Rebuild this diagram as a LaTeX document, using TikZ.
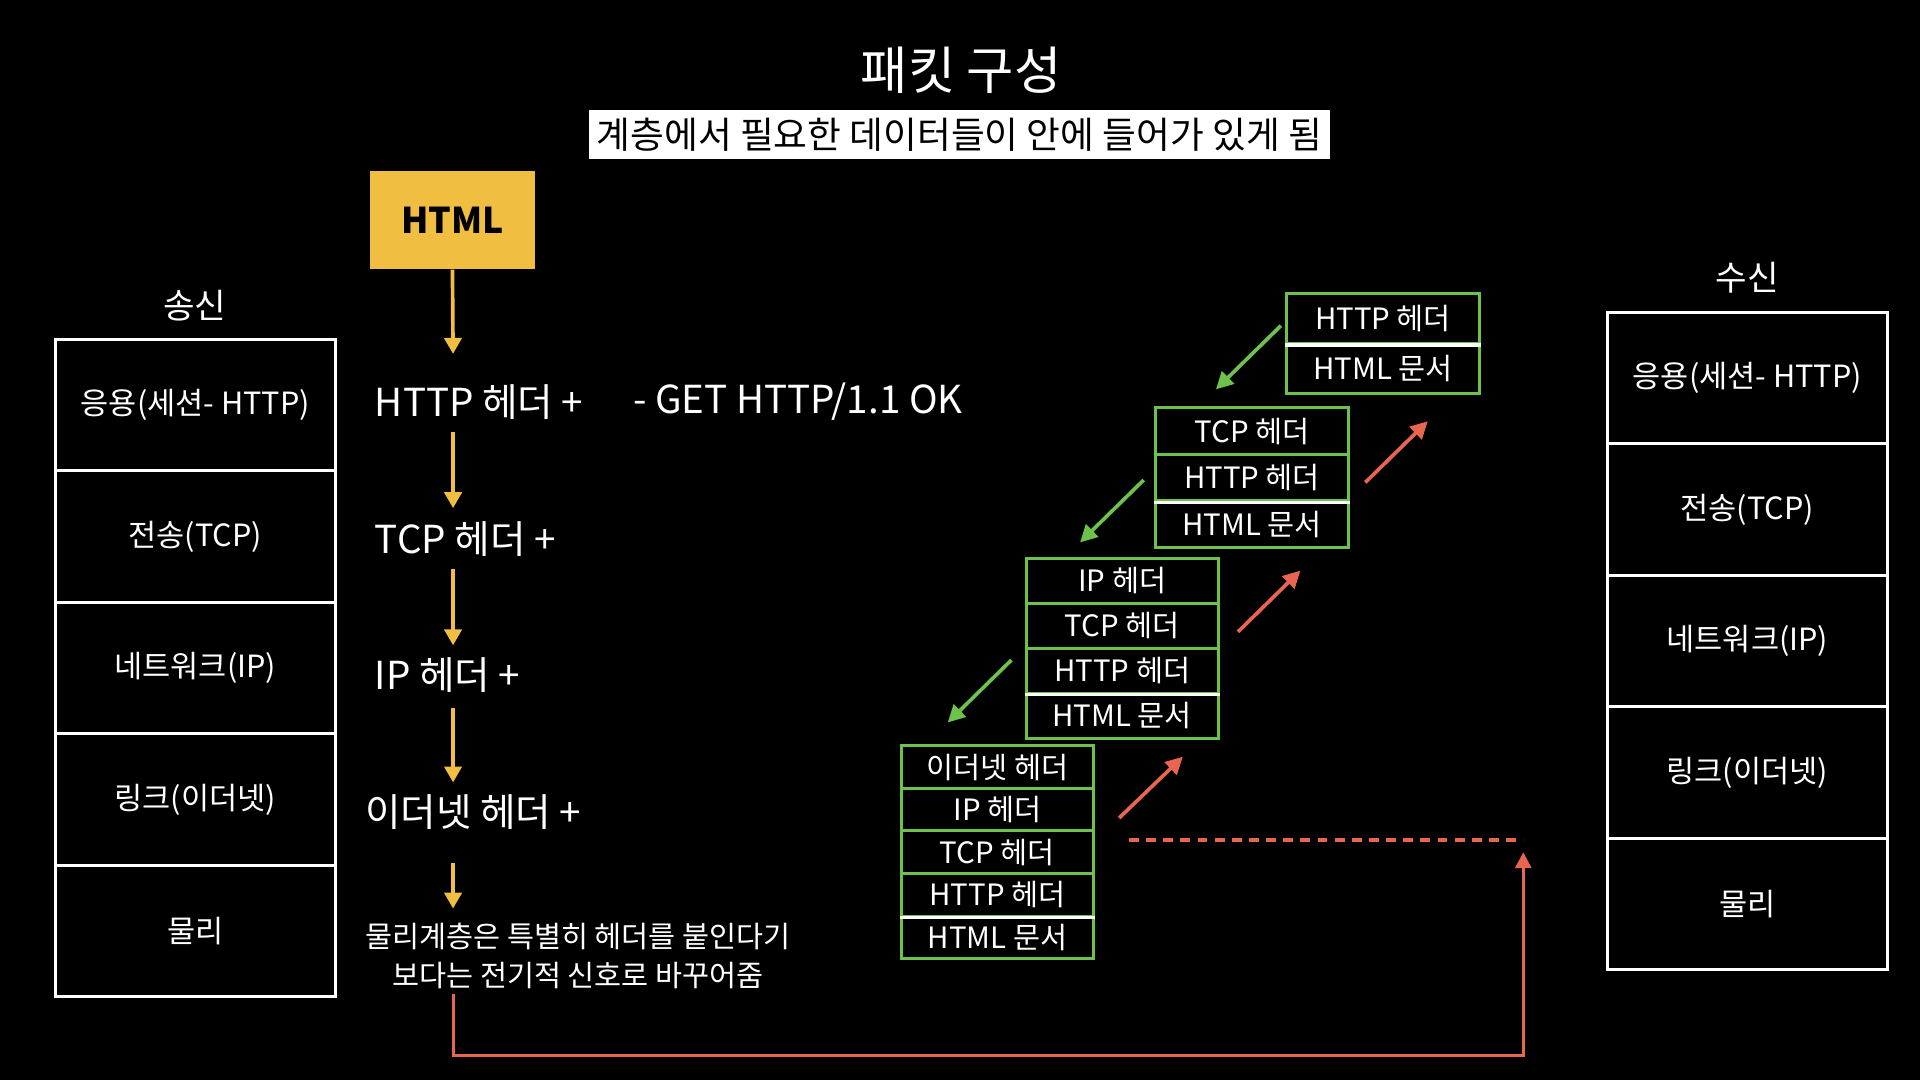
\documentclass[tikz,border=0pt]{standalone}
\usepackage{fontspec}
\setmainfont{Noto Sans CJK KR}
\usetikzlibrary{arrows.meta}
\definecolor{ylw}{HTML}{F0BE40}
\definecolor{grn}{HTML}{6CC24A}
\definecolor{redl}{HTML}{E8664F}
\newcommand{\fsz}[2]{\fontsize{#1}{#2}\selectfont}
\tikzset{
  layer/.style={draw=white, line width=2.5pt, minimum width=229pt, minimum height=107.4pt, inner sep=0pt, text=white, font=\fsz{25}{28}},
  pk/.style={draw=grn, line width=2.5pt, minimum width=157pt, inner sep=0pt, text=white, font=\fsz{24}{28}},
  sep/.style={draw=white, line width=2.5pt},
  lbl/.style={text=white, inner sep=0pt, anchor=west, font=\fsz{31.5}{36}},
  yarrow/.style={draw=ylw, line width=3pt, -{Triangle[width=14pt,length=13pt]}},
  garrow/.style={draw=grn, line width=3pt, -{Triangle[width=14pt,length=14pt]}},
  rarrow/.style={draw=redl, line width=3pt, -{Triangle[width=14pt,length=14pt]}},
  rline/.style={draw=redl, line width=2.5pt},
}
\begin{document}
\begin{tikzpicture}[x=1pt,y=-1pt]
\fill[black] (0,0) rectangle (1568,882);
\useasboundingbox (0,0) rectangle (1568,882);

% title
\node[text=white, font=\fsz{42}{48}] (title) at (785,57) {패킷 구성};
\node[fill=white, text=black, minimum width=605pt, minimum height=40pt, inner sep=0pt, font=\fsz{30}{34}] (sub) at (783.5,110) {계층에서 필요한 데이터들이 안에 들어가 있게 됨};

% sender stack
\node[text=white, font=\fsz{28}{32}] (snd) at (159,250) {송신};
\foreach \t [count=\i] in {응용(세션- HTTP),전송(TCP),네트워크(IP),링크(이더넷),물리}{
  \node[layer] (L\i) at (159.5,{277+53.7+107.4*(\i-1)}) {\t};
}
% receiver stack
\node[text=white, font=\fsz{28}{32}] (rcv) at (1427,227) {수신};
\foreach \t [count=\i] in {응용(세션- HTTP),전송(TCP),네트워크(IP),링크(이더넷),물리}{
  \node[layer] (R\i) at (1427,{255+53.7+107.4*(\i-1)}) {\t};
}

% HTML box
\node[fill=ylw, minimum width=135pt, minimum height=80pt, inner sep=0pt, font=\bfseries\fsz{29}{32}, text=black] (html) at (369.5,180) {HTML};

% encapsulation texts
\node[lbl] (t1) at (306,328) {HTTP 헤더 +};
\node[lbl] (get) at (517,328) {- GET HTTP/1.1 OK};
\node[lbl] (t2) at (306,440) {TCP 헤더 +};
\node[lbl] (t3) at (306,551) {IP 헤더 +};
\node[lbl] (t4) at (298,663) {이더넷 헤더 +};
\node[text=white, align=center, inner sep=0pt, font=\fsz{24}{32}] (para) at (472,781) {물리계층은 특별히 헤더를 붙인다기\\보다는 전기적 신호로 바꾸어줌};

% yellow arrows
\coordinate (y1) at (370,289);
\coordinate (y2a) at (370,353); \coordinate (y2b) at (370,415);
\coordinate (y3a) at (370,465); \coordinate (y3b) at (370,527);
\coordinate (y4a) at (370,578); \coordinate (y4b) at (370,639);
\coordinate (y5a) at (370,705); \coordinate (y5b) at (370,742);
\draw[yarrow] (html.south) -- (y1);
\draw[yarrow] (y2a) -- (y2b);
\draw[yarrow] (y3a) -- (y3b);
\draw[yarrow] (y4a) -- (y4b);
\draw[yarrow] (y5a) -- (y5b);

% green stacks
\foreach \t [count=\i] in {HTTP 헤더,HTML 문서}{
  \node[pk, minimum height=40.5pt] (A\i) at (1129.5,{240+20.25+40.5*(\i-1)}) {\t};
}
\draw[sep] (A1.south west) -- (A1.south east);

\foreach \t [count=\i] in {TCP 헤더,HTTP 헤더,HTML 문서}{
  \node[pk, minimum height=38pt] (B\i) at (1022.5,{333+19+38*(\i-1)}) {\t};
}
\draw[sep] (B2.south west) -- (B2.south east);

\foreach \t [count=\i] in {IP 헤더,TCP 헤더,HTTP 헤더,HTML 문서}{
  \node[pk, minimum height=36.75pt] (C\i) at (916.5,{456+18.375+36.75*(\i-1)}) {\t};
}
\draw[sep] (C3.south west) -- (C3.south east);

\foreach \t [count=\i] in {이더넷 헤더,IP 헤더,TCP 헤더,HTTP 헤더,HTML 문서}{
  \node[pk, minimum height=34.8pt] (D\i) at (814.5,{609+17.4+34.8*(\i-1)}) {\t};
}
\draw[sep] (D4.south west) -- (D4.south east);

% green arrows (down, encapsulation)
\coordinate (g1a) at (1046,266); \coordinate (g1b) at (993,318);
\coordinate (g2a) at (934,392);  \coordinate (g2b) at (882,443);
\coordinate (g3a) at (826,539);  \coordinate (g3b) at (774,590);
\draw[garrow] (g1a) -- (g1b);
\draw[garrow] (g2a) -- (g2b);
\draw[garrow] (g3a) -- (g3b);

% red arrows (up, decapsulation)
\coordinate (r1a) at (1115,394); \coordinate (r1b) at (1166,344);
\coordinate (r2a) at (1011,516); \coordinate (r2b) at (1062,466);
\coordinate (r3a) at (914,668);  \coordinate (r3b) at (966,618);
\draw[rarrow] (r1a) -- (r1b);
\draw[rarrow] (r2a) -- (r2b);
\draw[rarrow] (r3a) -- (r3b);

% dashed line
\coordinate (d1) at (922,686); \coordinate (d2) at (1244,686);
\draw[rline, dash pattern=on 8pt off 6pt] (d1) -- (d2);

% red return path
\coordinate (p0) at (370,812);
\coordinate (pc) at (1244,862);
\coordinate (p1) at (1244,696);
\draw[rline, -{Triangle[width=13pt,length=13pt]}] (p0) |- (pc) -- (p1);
\end{tikzpicture}
\end{document}
